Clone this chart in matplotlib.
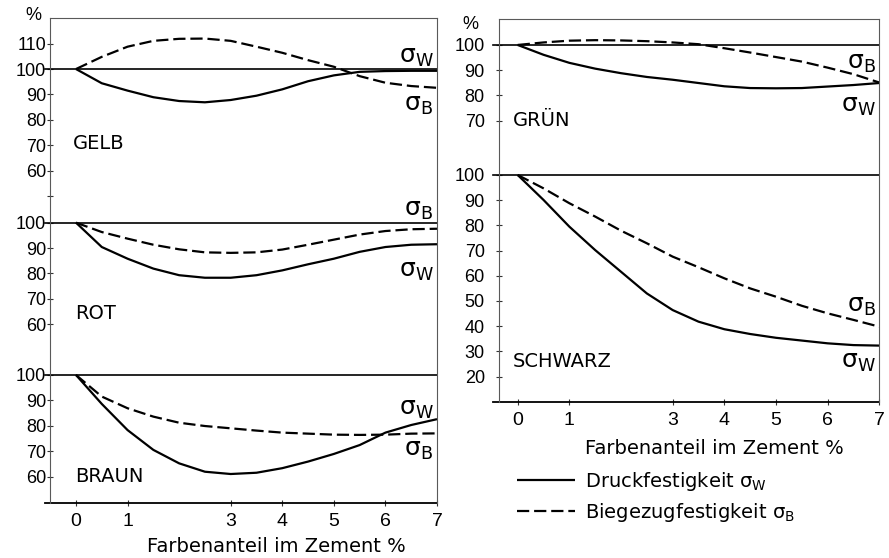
import matplotlib
matplotlib.use("Agg")
import matplotlib.pyplot as plt

plt.rcParams["font.family"] = ["DejaVu Sans"]
plt.rcParams["mathtext.default"] = "regular"

NUM_FONT = ["Liberation Sans Narrow", "Liberation Sans", "DejaVu Sans"]

# Farbenanteil im Zement (%) – sample positions
X = [0, 0.5, 1, 1.5, 2, 2.5, 3, 3.5, 4, 4.5, 5, 5.5, 6, 6.5, 7]

# relative strength in % (W = Druckfestigkeit, B = Biegezugfestigkeit)
GELB_W = [100, 94.4, 91.5, 88.9, 87.4, 86.9, 87.8, 89.5, 92.0, 95.2, 97.5, 98.9, 99.2, 99.3, 99.3]
GELB_B = [100, 104.8, 108.8, 111.1, 111.9, 112.0, 111.1, 108.8, 106.4, 103.5, 100.9, 97.2, 94.6, 93.3, 92.6]
ROT_W = [100, 90.4, 85.8, 81.9, 79.3, 78.3, 78.3, 79.3, 81.2, 83.6, 85.8, 88.5, 90.4, 91.3, 91.5]
ROT_B = [100, 96.3, 93.7, 91.3, 89.5, 88.3, 88.1, 88.3, 89.4, 91.3, 93.3, 95.3, 96.7, 97.4, 97.6]
BRAUN_W = [100, 88.6, 78.3, 70.5, 65.2, 61.9, 61.0, 61.5, 63.3, 65.9, 68.9, 72.4, 77.3, 80.3, 82.6]
BRAUN_B = [100, 91.5, 86.9, 83.6, 81.2, 79.9, 79.0, 78.1, 77.3, 76.9, 76.5, 76.4, 76.5, 76.9, 77.0]
GRUEN_W = [100, 96.1, 92.9, 90.6, 88.8, 87.3, 86.2, 84.9, 83.6, 82.9, 82.8, 82.9, 83.5, 84.1, 84.9]
GRUEN_B = [100, 101.0, 101.7, 101.9, 101.8, 101.5, 101.0, 100.3, 98.7, 97.0, 95.2, 93.4, 91.0, 88.4, 85.1]
SCHWARZ_W = [100, 90.1, 79.5, 70.2, 61.6, 53.0, 46.4, 41.8, 38.8, 36.9, 35.4, 34.3, 33.2, 32.5, 32.3]
SCHWARZ_B = [100, 94.7, 88.8, 83.5, 77.9, 72.9, 67.6, 63.4, 59.0, 55.0, 51.7, 48.1, 45.1, 42.5, 39.8]

X_TICKS = [0, 1, 3, 4, 5, 6, 7]
Y_LABELS_LEFT = {"GELB": [60, 70, 80, 90, 100, 110], "ROT": [60, 70, 80, 90, 100],
                 "BRAUN": [60, 70, 80, 90, 100]}
Y_LABELS_RIGHT = {"GRÜN": [70, 80, 90, 100], "SCHWARZ": [20, 30, 40, 50, 60, 70, 80, 90, 100]}

XLABEL = "Farbenanteil im Zement %"
LEG_W = "Druckfestigkeit σ$_W$"
LEG_B = "Biegezugfestigkeit σ$_B$"

# vertical stacking offsets of the sub-diagrams (layout only)
OFF_LEFT = {"GELB": 120.5, "ROT": 60, "BRAUN": 0}
OFF_RIGHT = {"GRÜN": 51.6, "SCHWARZ": 0}

LW = 1.6
DASH = (5.5, 2.2)

fig = plt.figure(figsize=(8.89, 5.58), dpi=100)
W, H = 889, 558
ax_l = fig.add_axes([50 / W, (H - 502.7) / H, 387 / W, 484.7 / H])
ax_r = fig.add_axes([499 / W, (H - 402.3) / H, 380.3 / W, 383.8 / H])


def frame(ax, xlim, ylim, ypad, ext):
    ax.set_xlim(*xlim)
    ax.set_ylim(*ylim)
    for s in ("left", "top", "right"):
        ax.spines[s].set_linewidth(0.8)
        ax.spines[s].set_color("0.35")
    ax.spines["bottom"].set_visible(False)
    ax.axhline(ylim[0], xmin=-ext, xmax=1, color="black", lw=1.3, clip_on=False)
    ax.tick_params(direction="inout", length=4.5, width=0.8, color="0.2")
    ax.tick_params(axis="y", pad=ypad)
    ax.tick_params(axis="x", pad=5, bottom=True)
    ax.set_xticks(X_TICKS)
    ax.set_xticklabels([str(t) for t in X_TICKS], family=NUM_FONT, fontsize=14)


def panel(ax, name, off, yw, yb, lab_xy, sw_y, sb_y, ext):
    ax.axhline(100 + off, xmin=-ext, xmax=1, color="black", lw=1.2, clip_on=False)
    lw_, = ax.plot(X, [v + off for v in yw], color="black", lw=LW, solid_capstyle="butt")
    lb_, = ax.plot(X, [v + off for v in yb], color="black", lw=LW, dashes=DASH)
    ax.text(lab_xy[0], lab_xy[1] + off, name, fontsize=14, va="center", ha="left")
    ax.text(6.93, sw_y + off, "σ$_W$", fontsize=18, va="center", ha="right")
    ax.text(6.93, sb_y + off, "σ$_B$", fontsize=18, va="center", ha="right")
    return lw_, lb_


# left diagram: GELB / ROT / BRAUN
ext_l = 5 / 387
frame(ax_l, (-0.504, 7.0), (49.7, 240.6), 0.5, ext_l)
panel(ax_l, "GELB", OFF_LEFT["GELB"], GELB_W, GELB_B, (-0.06, 70.5), 104.7, 85.8, ext_l)
panel(ax_l, "ROT", OFF_LEFT["ROT"], ROT_W, ROT_B, (-0.02, 64.4), 80.8, 105.1, ext_l)
panel(ax_l, "BRAUN", OFF_LEFT["BRAUN"], BRAUN_W, BRAUN_B, (-0.02, 60.0), 86.5, 70.5, ext_l)

yt, yl = [], []
for name in ("BRAUN", "ROT", "GELB"):
    for v in Y_LABELS_LEFT[name]:
        yt.append(v + OFF_LEFT[name])
        yl.append(str(v))
yt.append(50 + OFF_LEFT["GELB"])
yl.append("")
ax_l.set_yticks(yt)
ax_l.set_yticklabels(yl, family=NUM_FONT, fontsize=13)
ax_l.text(-0.044, 1.006, "%", transform=ax_l.transAxes, fontsize=13, ha="center", va="center",
          family=NUM_FONT)

# right diagram: GRÜN / SCHWARZ
ext_r = 6.5 / 380.3
frame(ax_r, (-0.362, 7.0), (9.8, 162.1), 8, ext_r)
panel(ax_r, "GRÜN", OFF_RIGHT["GRÜN"], GRUEN_W, GRUEN_B, (-0.09, 70.2), 75.9, 92.7, ext_r)
h_w, h_b = panel(ax_r, "SCHWARZ", OFF_RIGHT["SCHWARZ"], SCHWARZ_W, SCHWARZ_B,
                 (-0.09, 25.9), 25.7, 48.1, ext_r)

yt, yl = [], []
for name in ("SCHWARZ", "GRÜN"):
    for v in Y_LABELS_RIGHT[name]:
        yt.append(v + OFF_RIGHT[name])
        yl.append(str(v))
ax_r.set_yticks(yt)
ax_r.set_yticklabels(yl, family=NUM_FONT, fontsize=13)
ax_r.text(-0.076, 0.985, "%", transform=ax_r.transAxes, fontsize=13, ha="center", va="center",
          family=NUM_FONT)

fig.text(276.7 / W, 1 - 546 / H, XLABEL, fontsize=14, ha="center", va="center")
fig.text(714 / W, 1 - 448 / H, XLABEL, fontsize=14, ha="center", va="center")

fig.legend([h_w, h_b], [LEG_W, LEG_B], loc="upper left", bbox_to_anchor=(517 / W, 1 - 470 / H),
           frameon=False, fontsize=14, handlelength=3.0, handletextpad=0.5,
           labelspacing=0.4, borderpad=0, borderaxespad=0)

fig.savefig("out.png", dpi=100, facecolor="white")
